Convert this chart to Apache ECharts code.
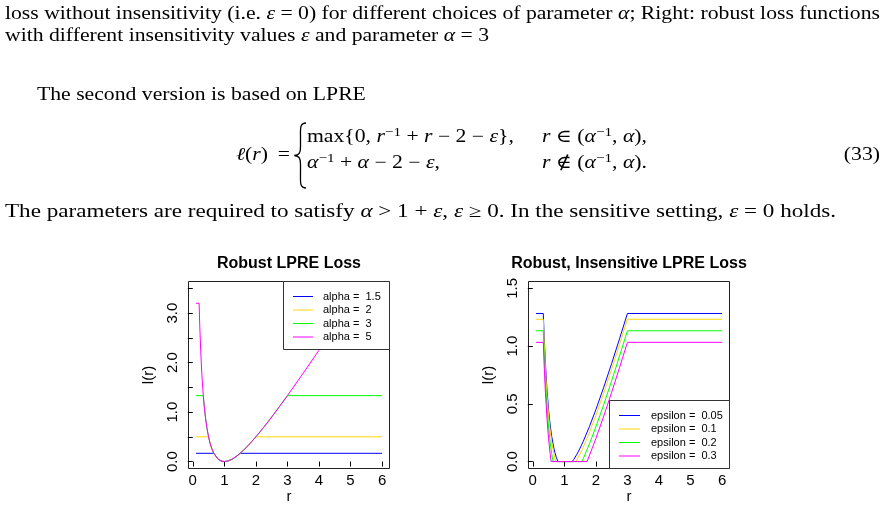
<!DOCTYPE html>
<html><head><meta charset="utf-8">
<script src="https://cdn.jsdelivr.net/npm/echarts@6/dist/echarts.min.js"></script>
<style>html,body{margin:0;padding:0;background:#fff}#c{width:886px;height:510px}</style>
</head><body><div id="c"></div>
<script>
// ---------------- data ----------------
const rTicks = [0, 1, 2, 3, 4, 5, 6];
const leftYTicks = [0, 0.5, 1, 1.5, 2, 2.5, 3, 3.5];
const leftYLabels = [0, 1, 2, 3];
const rightYTicks = [0, 0.5, 1, 1.5];
const leftTitle = 'Robust LPRE Loss';
const rightTitle = 'Robust, Insensitive LPRE Loss';
const alphaNames = ['alpha =  1.5', 'alpha =  2', 'alpha =  3', 'alpha =  5'];
const epsNames = ['epsilon =  0.05', 'epsilon =  0.1', 'epsilon =  0.2', 'epsilon =  0.3'];

// left panel: robust LPRE loss, (r, l(r))
const alpha15 = [[0.1,0.167],[0.667,0.167],[0.7,0.129],[0.8,0.05],[0.9,0.011],[1,0],[1.1,0.009],[1.2,0.033],[1.3,0.069],[1.4,0.114],[1.5,0.167],[6,0.167]];
const alpha2 = [[0.1,0.5],[0.5,0.5],[0.55,0.368],[0.6,0.267],[0.667,0.167],[0.7,0.129],[0.8,0.05],[0.9,0.011],[1,0],[1.1,0.009],[1.2,0.033],[1.3,0.069],[1.4,0.114],[1.5,0.167],[1.6,0.225],[1.8,0.356],[2,0.5],[6,0.5]];
const alpha3 = [[0.1,1.333],[0.333,1.333],[0.36,1.138],[0.4,0.9],[0.45,0.672],[0.5,0.5],[0.55,0.368],[0.6,0.267],[0.667,0.167],[0.7,0.129],[0.8,0.05],[0.9,0.011],[1,0],[1.1,0.009],[1.2,0.033],[1.3,0.069],[1.4,0.114],[1.5,0.167],[1.6,0.225],[1.8,0.356],[2,0.5],[2.25,0.694],[2.5,0.9],[2.75,1.114],[3,1.333],[6,1.333]];
const alpha5 = [[0.1,3.2],[0.2,3.2],[0.22,2.765],[0.25,2.25],[0.28,1.851],[0.3,1.633],[0.333,1.333],[0.36,1.138],[0.4,0.9],[0.45,0.672],[0.5,0.5],[0.55,0.368],[0.6,0.267],[0.667,0.167],[0.7,0.129],[0.8,0.05],[0.9,0.011],[1,0],[1.1,0.009],[1.2,0.033],[1.3,0.069],[1.4,0.114],[1.5,0.167],[1.6,0.225],[1.8,0.356],[2,0.5],[2.25,0.694],[2.5,0.9],[2.75,1.114],[3,1.333],[3.5,1.786],[4,2.25],[4.5,2.722],[5,3.2],[6,3.2]];

// right panel: robust insensitive LPRE loss, alpha = 3
const eps005 = [[0.1,1.283],[0.333,1.283],[0.36,1.088],[0.4,0.85],[0.45,0.622],[0.5,0.45],[0.55,0.318],[0.6,0.217],[0.667,0.117],[0.7,0.079],[0.75,0.033],[0.8,0],[1.25,0],[1.3,0.019],[1.4,0.064],[1.5,0.117],[1.6,0.175],[1.8,0.306],[2,0.45],[2.25,0.644],[2.5,0.85],[2.75,1.064],[3,1.283],[6,1.283]];
const eps01 = [[0.1,1.233],[0.333,1.233],[0.36,1.038],[0.4,0.8],[0.45,0.572],[0.5,0.4],[0.55,0.268],[0.6,0.167],[0.667,0.067],[0.7,0.029],[0.73,0],[1.37,0],[1.4,0.014],[1.5,0.067],[1.6,0.125],[1.8,0.256],[2,0.4],[2.25,0.594],[2.5,0.8],[2.75,1.014],[3,1.233],[6,1.233]];
const eps02 = [[0.1,1.133],[0.333,1.133],[0.36,0.938],[0.4,0.7],[0.45,0.472],[0.5,0.3],[0.55,0.168],[0.6,0.067],[0.642,0],[1.558,0],[1.6,0.025],[1.8,0.156],[2,0.3],[2.25,0.494],[2.5,0.7],[2.75,0.914],[3,1.133],[6,1.133]];
const eps03 = [[0.1,1.033],[0.333,1.033],[0.36,0.838],[0.4,0.6],[0.45,0.372],[0.5,0.2],[0.55,0.068],[0.582,0],[1.718,0],[1.8,0.056],[2,0.2],[2.25,0.394],[2.5,0.6],[2.75,0.814],[3,1.033],[6,1.033]];

// ---------------- styling / layout ----------------
const colors = ['#0000FF', '#FFD700', '#00FF00', '#FF00FF'];
const SANS = '"Liberation Sans", Arial, sans-serif';
const SERIF = '"Liberation Serif", "DejaVu Serif", serif';
const FS = 18, SUPFS = 12.6;

const G = [
  {left: 188.5, top: 281.5, width: 201, height: 187},
  {left: 528.5, top: 281.5, width: 201, height: 187}
];

const ctx = document.createElement('canvas').getContext('2d');
function segFont(st) {
  if (st === 'i') return 'italic ' + FS + 'px ' + SERIF;
  if (st === 's') return SUPFS + 'px ' + SERIF;
  return FS + 'px ' + SERIF;
}
function measure(parts) {
  let w = 0;
  for (const p of parts) { ctx.font = segFont(p[1]); w += ctx.measureText(p[0]).width; }
  return w;
}
function richStr(parts) {
  return parts.map(p => p[1] ? '{' + p[1] + '|' + p[0] + '}' : p[0]).join('');
}
const richStyles = {
  i: {fontStyle: 'italic', fontSize: FS, fontFamily: SERIF, fill: '#000'},
  s: {fontSize: SUPFS, fontFamily: SERIF, fill: '#000', padding: [0, 0, 10, 0]}
};

// [parts, anchor x, align, y middle, optional right edge for a stretched line]
const firstLine = [['loss without insensitivity (i.e. '], ['ε','i'], [' = 0) for different choices of parameter '], ['α','i'], ['; Right: robust loss functions']];
const textScale = 875 / measure(firstLine);
const textLines = [
  [firstLine, 5, 'left', 14.5],
  [[['with different insensitivity values '], ['ε','i'], [' and parameter '], ['α','i'], [' = 3']], 5, 'left', 36.5],
  [[['The second version is based on LPRE']], 37, 'left', 95],
  [[['ℓ','i'], ['('], ['r','i'], [')']], 236, 'left', 155],
  [[['=']], 290, 'right', 155],
  [[['max{0, '], ['r','i'], ['−1','s'], [' + '], ['r','i'], [' − 2 − '], ['ε','i'], ['},']], 307, 'left', 137.5],
  [[['r','i'], [' ∈ ('], ['α','i'], ['−1','s'], [', '], ['α','i'], ['),']], 542, 'left', 137.5],
  [[['α','i'], ['−1','s'], [' + '], ['α','i'], [' − 2 − '], ['ε','i'], [',']], 307, 'left', 163.5],
  [[['r','i'], [' ∉ ('], ['α','i'], ['−1','s'], [', '], ['α','i'], [').']], 542, 'left', 163.5],
  [[['(33)']], 880, 'right', 155],
  [[['The parameters are required to satisfy '], ['α','i'], [' > 1 + '], ['ε','i'], [', '], ['ε','i'], [' ≥ 0. In the sensitive setting, '], ['ε','i'], [' = 0 holds.']], 5, 'left', 212, 836]
];

const graphics = [];
textLines.forEach(t => {
  const nat = measure(t[0]);
  const sc = t[4] ? (t[4] - t[1]) / nat : textScale;
  const w = nat * sc;
  const x = t[2] === 'right' ? t[1] - w : t[1];
  graphics.push({
    type: 'text', x: x, y: t[3], scaleX: sc, z: 20,
    style: {text: richStr(t[0]), fontSize: FS, fontFamily: SERIF, fill: '#000',
      align: 'left', textAlign: 'left', verticalAlign: 'middle', textVerticalAlign: 'middle', rich: richStyles}
  });
});
// big left brace of the cases environment
const braceStyle = {stroke: '#000', fill: null, lineWidth: 1.3};
[
  {x1: 306, y1: 123, cpx1: 299.5, cpy1: 123, cpx2: 300.5, cpy2: 129, x2: 300.5, y2: 138},
  {x1: 300.5, y1: 147, cpx1: 300.5, cpy1: 153, cpx2: 299, cpy2: 155, x2: 294.5, y2: 155.5},
  {x1: 294.5, y1: 155.5, cpx1: 299, cpy1: 156, cpx2: 300.5, cpy2: 158, x2: 300.5, y2: 164},
  {x1: 300.5, y1: 173, cpx1: 300.5, cpy1: 182, cpx2: 299.5, cpy2: 188, x2: 306, y2: 188}
].forEach(s => graphics.push({type: 'bezierCurve', z: 20, shape: s, style: braceStyle}));
graphics.push({type: 'line', z: 20, shape: {x1: 300.5, y1: 138, x2: 300.5, y2: 147}, style: braceStyle});
graphics.push({type: 'line', z: 20, shape: {x1: 300.5, y1: 164, x2: 300.5, y2: 173}, style: braceStyle});

// titles
[[leftTitle, G[0]], [rightTitle, G[1]]].forEach(p => {
  graphics.push({type: 'text', x: p[1].left + p[1].width / 2, y: 264, z: 20,
    style: {text: p[0], fontSize: 16, fontWeight: 'bold', fontFamily: SANS, fill: '#000',
      align: 'center', textAlign: 'center', verticalAlign: 'middle', textVerticalAlign: 'middle'}});
});

// legends (boxes drawn over the plots, like R's legend())
function legend(names, box, lineX1, lineX2, textX, rowY) {
  graphics.push({type: 'rect', z: 30, shape: box, style: {fill: '#fff', stroke: '#333', lineWidth: 1}});
  names.forEach((n, i) => {
    graphics.push({type: 'line', z: 31, shape: {x1: lineX1, y1: rowY[i], x2: lineX2, y2: rowY[i]}, style: {stroke: colors[i], lineWidth: 1}});
    graphics.push({type: 'text', z: 31, x: textX, y: rowY[i],
      style: {text: n, fontSize: 11, fontFamily: SANS, fill: '#000', align: 'left', textAlign: 'left', verticalAlign: 'middle', textVerticalAlign: 'middle'}});
  });
}
legend(alphaNames, {x: 283.5, y: 281.5, width: 106, height: 68}, 293, 313, 323, [296.5, 310, 323.5, 337]);
legend(epsNames, {x: 609.5, y: 400.5, width: 120, height: 68}, 619, 640, 651, [415.5, 429, 442.5, 456]);

function xAxisOpt(gi) {
  return {
    type: 'value', gridIndex: gi, min: -0.136, max: 6.236,
    name: 'r', nameLocation: 'middle', nameGap: 21,
    nameTextStyle: {fontSize: 15, fontFamily: SANS, color: '#000'},
    axisLine: {show: false},
    axisTick: {show: true, length: 5, inside: false, customValues: rTicks, lineStyle: {color: '#000'}},
    axisLabel: {show: true, customValues: rTicks, fontSize: 15, fontFamily: SANS, color: '#000', margin: 5},
    splitLine: {show: false}
  };
}
function yAxisOpt(gi, min, max, ticks, labels) {
  return {
    type: 'value', gridIndex: gi, min: min, max: max,
    name: 'l(r)', nameLocation: 'middle', nameGap: 32,
    nameTextStyle: {fontSize: 15, fontFamily: SANS, color: '#000'},
    axisLine: {show: false},
    axisTick: {show: true, length: 5, inside: false, customValues: ticks, lineStyle: {color: '#000'}},
    axisLabel: {show: true, customValues: labels, rotate: 90, fontSize: 15, fontFamily: SANS, color: '#000', margin: 8,
      formatter: v => Number(v).toFixed(1)},
    splitLine: {show: false}
  };
}

function lineSeries(name, data, gi, ci) {
  return {
    type: 'line', name: name, data: data, xAxisIndex: gi, yAxisIndex: gi,
    symbol: 'none', smooth: false, animation: false,
    lineStyle: {width: 1, color: colors[ci]}, itemStyle: {color: colors[ci]}
  };
}

const leftData = [alpha15, alpha2, alpha3, alpha5];
const rightData = [eps005, eps01, eps02, eps03];
const series = [];
leftData.forEach((d, i) => series.push(lineSeries(alphaNames[i], d, 0, i)));
rightData.forEach((d, i) => series.push(lineSeries(epsNames[i], d, 1, i)));

const chart = echarts.init(document.getElementById('c'), null, {renderer: 'canvas'});
chart.setOption({
  animation: false,
  backgroundColor: '#fff',
  grid: G.map(g => Object.assign({show: true, borderColor: '#222', borderWidth: 1, backgroundColor: 'transparent', containLabel: false}, g)),
  xAxis: [xAxisOpt(0), xAxisOpt(1)],
  yAxis: [yAxisOpt(0, -0.14, 3.64, leftYTicks, leftYLabels), yAxisOpt(1, -0.06, 1.56, rightYTicks, rightYTicks)],
  series: series,
  graphic: graphics
});
</script></body></html>
